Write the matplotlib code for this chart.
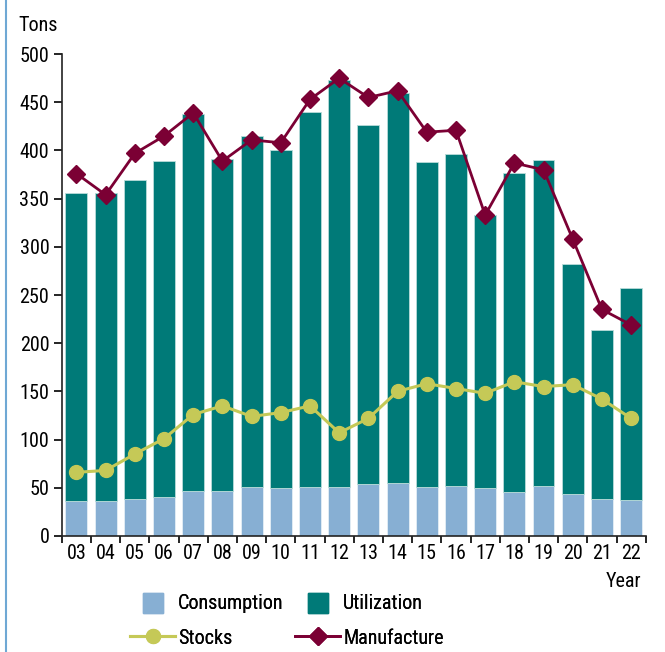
import numpy as np
import matplotlib
matplotlib.use('Agg')
import matplotlib.pyplot as plt
from matplotlib.lines import Line2D
from matplotlib.patches import Patch

plt.rcParams['font.family'] = ['Roboto Condensed', 'Liberation Sans', 'DejaVu Sans']

years = ['03', '04', '05', '06', '07', '08', '09', '10', '11', '12',
         '13', '14', '15', '16', '17', '18', '19', '20', '21', '22']
consumption = [36, 36, 38, 40, 47, 47, 51, 50, 51, 51,
               54, 55, 51, 52, 50, 46, 52, 44, 38, 37]
utilization_total = [356, 356, 369, 389, 438, 391, 415, 400, 440, 473,
                     426, 460, 388, 396, 333, 377, 390, 282, 214, 257]
stocks = [66, 68, 85, 101, 126, 135, 124, 128, 135, 107,
          122, 150, 158, 153, 148, 160, 155, 157, 142, 122]
manufacture = [376, 354, 397, 415, 439, 389, 411, 408, 453, 475,
               455, 462, 419, 421, 333, 387, 380, 308, 235, 219]

c_cons = '#87afd3'
c_util = '#007a78'
c_stock = '#c5c957'
c_manu = '#7b0034'
fs = 14.5

fig = plt.figure(figsize=(6.65, 6.52), dpi=100)
ax = fig.add_axes([0.093, 0.178, 0.878, 0.739])

x = np.arange(len(years))
util_part = np.array(utilization_total) - np.array(consumption)
ax.bar(x, consumption, width=0.75, color=c_cons, edgecolor='#e4eef6', linewidth=0.6, zorder=2)
ax.bar(x, util_part, bottom=consumption, width=0.75, color=c_util,
       edgecolor='#b9dcd9', linewidth=0.6, zorder=2)
ax.plot(x, stocks, color=c_stock, lw=2.2, marker='o', ms=10, zorder=4)
ax.plot(x, manufacture, color=c_manu, lw=2, marker='D', ms=9, zorder=5)

ax.set_xlim(-0.5, len(years) - 0.5)
ax.set_ylim(0, 500)
ax.set_yticks(range(0, 501, 50))
ax.set_xticks(x)
ax.set_xticklabels(years)
ax.set_xticks(np.arange(-0.5, len(years)), minor=True)
ax.tick_params(axis='x', which='major', length=0, labelsize=fs, pad=6)
ax.tick_params(axis='x', which='minor', length=5, width=1.2, direction='out')
ax.tick_params(axis='y', length=6, width=1.2, labelsize=fs, pad=3)
for s in ['top', 'right']:
    ax.spines[s].set_visible(False)
for s in ['left', 'bottom']:
    ax.spines[s].set_linewidth(1.2)
    ax.spines[s].set_color('#222222')

fig.text(0.027, 0.961, 'Tons', fontsize=fs, va='center', ha='left')
fig.text(0.965, 0.108, 'Year', fontsize=fs, va='center', ha='right')

# legend: one entry per legend so each handle sits where the reference has it
entries = [
    (Patch(color=c_cons, label='Consumption'), 143, 603),
    (Patch(color=c_util, label='Utilization'), 308, 603),
    (Line2D([], [], color=c_stock, lw=2.2, marker='o', ms=10, label='Stocks'), 130, 638),
    (Line2D([], [], color=c_manu, lw=2, marker='D', ms=9, label='Manufacture'), 295, 638),
]
for h, px, py in entries:
    is_patch = isinstance(h, Patch)
    leg = fig.legend(handles=[h], frameon=False, fontsize=fs, borderpad=0, borderaxespad=0,
                     loc='center left', bbox_to_anchor=(px / 665, 1 - py / 652),
                     handlelength=1.0 if is_patch else 2.25,
                     handleheight=1.15 if is_patch else 0.7,
                     handletextpad=0.75 if is_patch else 0.15)
    fig.add_artist(leg)

fig.add_artist(Line2D([0.009, 0.009], [0, 1], color='#6fa8d4', lw=1.5, transform=fig.transFigure))

fig.savefig('out.png', dpi=100)
